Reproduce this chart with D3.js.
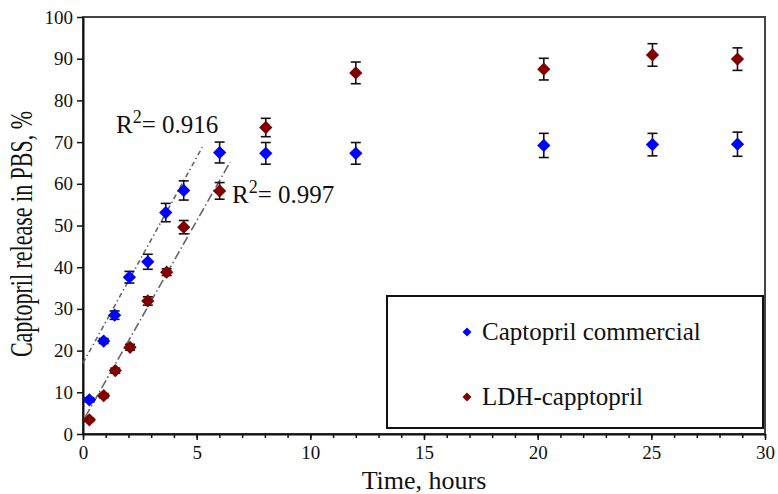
<!DOCTYPE html>
<html>
<head>
<meta charset="utf-8">
<script src="https://cdn.jsdelivr.net/npm/d3@7"></script>
<style>
  body { margin: 0; background: #fff; }
  text { font-family: "Liberation Serif", "Times New Roman", serif; fill: #111; }
</style>
</head>
<body>
<div id="chart"></div>
<script>
// release data (time in hours, release in %)
var blueTimes = [0.28, 0.91, 1.39, 2.04, 2.85, 3.64, 4.43, 6.01, 8.04, 12.0, 20.27, 25.05, 28.79];
var blueVals = [8.2, 22.3, 28.5, 37.6, 41.3, 53.1, 58.4, 67.5, 67.3, 67.3, 69.2, 69.4, 69.5];
var blueErr = [0.5, 0.6, 1.0, 1.4, 1.8, 2.2, 2.3, 2.5, 2.6, 2.6, 2.9, 2.7, 2.9];

var redTimes = [0.28, 0.91, 1.42, 2.07, 2.85, 3.68, 4.43, 6.01, 8.04, 12.0, 20.27, 25.05, 28.79];
var redVals = [3.4, 9.2, 15.2, 20.8, 31.9, 38.8, 49.6, 58.3, 73.5, 86.6, 87.5, 90.9, 89.9];
var redErr = [0.4, 0.5, 0.6, 0.7, 1.0, 0.8, 1.6, 2.0, 2.2, 2.6, 2.6, 2.7, 2.7];

// trend line end points
var blueFitX = [0.0, 5.25], blueFitY = [17.0, 68.8];
var redFitX = [0.1, 6.47], redFitY = [4.1, 65.2];

var seriesNames = ["Captopril commercial", "LDH-capptopril"];
var seriesColors = ["#0000ff", "#800000"];
var xTicks = [0, 5, 10, 15, 20, 25, 30];
var yTicks = [0, 10, 20, 30, 40, 50, 60, 70, 80, 90, 100];

var W = 778, H = 494;
var margin = {top: 17, right: 13, bottom: 60, left: 83},
    width = W - margin.left - margin.right,
    height = H - margin.top - margin.bottom;

var svg = d3.select("#chart").append("svg")
    .attr("width", W).attr("height", H);
var g = svg.append("g")
    .attr("transform", "translate(" + margin.left + "," + margin.top + ")");

var x = d3.scaleLinear().domain([0, 30]).range([0, width]);
var y = d3.scaleLinear().domain([0, 100]).range([height, 0]);

// frame (top and right)
g.append("rect")
    .attr("width", width).attr("height", height)
    .attr("fill", "none").attr("stroke", "#444").attr("stroke-width", 2);

// minor x ticks
g.append("g")
    .attr("transform", "translate(0," + height + ")")
    .call(d3.axisBottom(x).tickValues(d3.range(0, 31, 1)).tickSize(4).tickFormat(""))
    .call(a => a.select(".domain").remove())
    .selectAll("line").attr("stroke", "#111").attr("stroke-width", 1.5);

// x axis
var xAxis = g.append("g")
    .attr("transform", "translate(0," + height + ")")
    .call(d3.axisBottom(x).tickValues(xTicks).tickSize(6).tickSizeOuter(0).tickPadding(6));
xAxis.select(".domain").attr("stroke", "#111").attr("stroke-width", 2);
xAxis.selectAll("line").attr("stroke", "#111").attr("stroke-width", 1.5);
xAxis.selectAll("text").style("font-size", "19px").style("font-family", "Liberation Serif").attr("fill", "#111");

// y axis
var yAxis = g.append("g")
    .call(d3.axisLeft(y).tickValues(yTicks).tickSize(6).tickSizeOuter(0).tickPadding(4));
yAxis.select(".domain").attr("stroke", "#111").attr("stroke-width", 2);
yAxis.selectAll("line").attr("stroke", "#111").attr("stroke-width", 1.5);
yAxis.selectAll("text").style("font-size", "19px").style("font-family", "Liberation Serif").attr("fill", "#111");

// axis titles
svg.append("text")
    .attr("x", margin.left + x(15)).attr("y", 489)
    .attr("text-anchor", "middle")
    .style("font-size", "26px")
    .text("Time, hours");
svg.append("text")
    .attr("transform", "translate(32," + 234 + ") rotate(-90) scale(1,1.45)")
    .attr("text-anchor", "middle")
    .style("font-size", "22px")
    .text("Captopril release in PBS, %");

// trend lines
var line = d3.line().x(d => x(d[0])).y(d => y(d[1]));
g.append("path")
    .attr("d", line(d3.zip(blueFitX, blueFitY)))
    .attr("fill", "none").attr("stroke", "#666").attr("stroke-width", 1.6)
    .attr("stroke-dasharray", "5,3,1.5,3");
g.append("path")
    .attr("d", line(d3.zip(redFitX, redFitY)))
    .attr("fill", "none").attr("stroke", "#666").attr("stroke-width", 1.6)
    .attr("stroke-dasharray", "9,3,1.5,3");

// R2 labels
function r2Label(px, py, val) {
    var t = svg.append("text").attr("x", px).attr("y", py).style("font-size", "25px");
    t.append("tspan").text("R");
    t.append("tspan").attr("dy", -10).style("font-size", "18px").text("2");
    t.append("tspan").attr("dy", 10).text("= " + val);
}
r2Label(116, 133, "0.916");
r2Label(232, 203, "0.997");

var diamond = d3.symbol().type(d3.symbolSquare).size(88);

function drawSeries(times, vals, errs, color) {
    var data = d3.zip(times, vals, errs);
    var s = g.append("g");
    var eb = s.selectAll("g.eb").data(data).enter().append("g")
        .attr("stroke", "#111").attr("stroke-width", 1.6);
    eb.append("line")
        .attr("x1", d => x(d[0])).attr("x2", d => x(d[0]))
        .attr("y1", d => y(d[1] + d[2])).attr("y2", d => y(d[1] - d[2]));
    eb.append("line")
        .attr("x1", d => x(d[0]) - 5).attr("x2", d => x(d[0]) + 5)
        .attr("y1", d => y(d[1] + d[2])).attr("y2", d => y(d[1] + d[2]));
    eb.append("line")
        .attr("x1", d => x(d[0]) - 5).attr("x2", d => x(d[0]) + 5)
        .attr("y1", d => y(d[1] - d[2])).attr("y2", d => y(d[1] - d[2]));
    s.selectAll("path").data(data).enter().append("path")
        .attr("d", diamond)
        .attr("transform", d => "translate(" + x(d[0]) + "," + y(d[1]) + ") rotate(45)")
        .attr("fill", color);
}
drawSeries(blueTimes, blueVals, blueErr, seriesColors[0]);
drawSeries(redTimes, redVals, redErr, seriesColors[1]);

// legend
var leg = svg.append("g");
leg.append("rect")
    .attr("x", 387).attr("y", 296).attr("width", 376).attr("height", 132)
    .attr("fill", "#fff").attr("stroke", "#111").attr("stroke-width", 2);
seriesNames.forEach(function (name, i) {
    var cy = 332 + i * 65;
    leg.append("path")
        .attr("d", d3.symbol().type(d3.symbolSquare).size(40))
        .attr("transform", "translate(467," + cy + ") rotate(45)")
        .attr("fill", seriesColors[i]);
    leg.append("text")
        .attr("x", 482).attr("y", cy + 8)
        .style("font-size", "25px")
        .text(name);
});
</script>
</body>
</html>
